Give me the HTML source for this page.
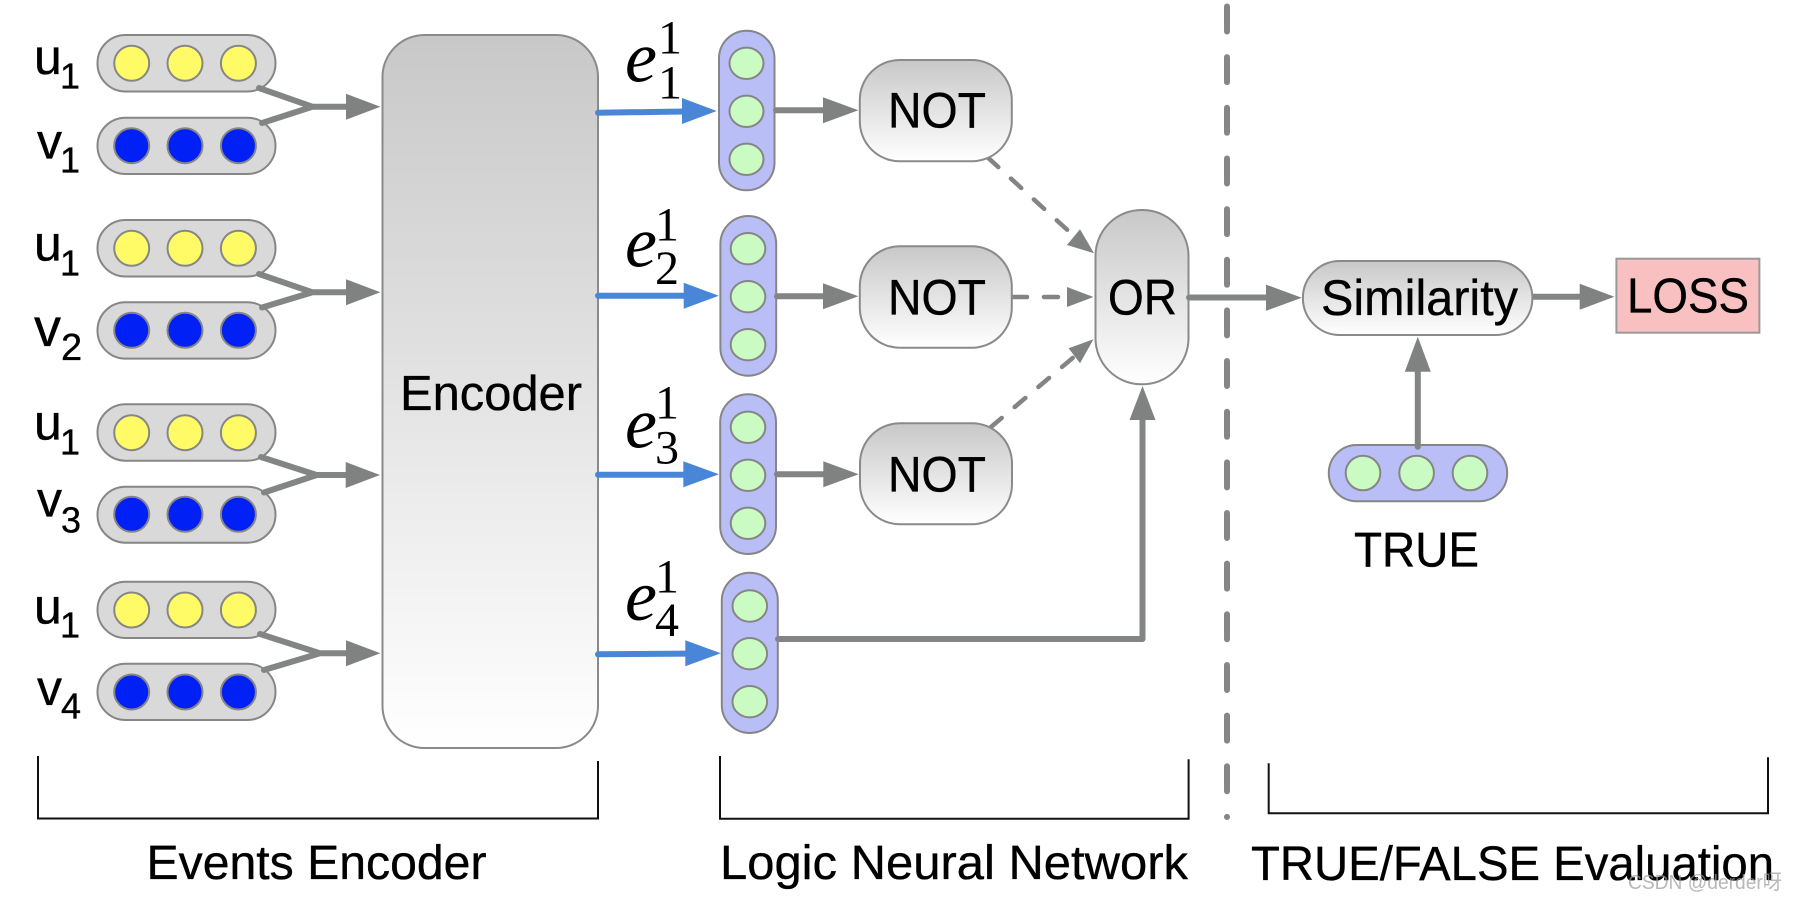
<!DOCTYPE html>
<html><head><meta charset="utf-8"><style>html,body{margin:0;padding:0;background:#fff;width:1796px;height:900px;overflow:hidden}svg{display:block}text{font-family:"Liberation Sans",sans-serif;fill:#000}.t{stroke:#000;stroke-width:.35}.m{font-family:"Liberation Serif",serif;}.i{font-family:"Liberation Serif",serif;font-style:italic}</style></head><body>
<svg width="1796" height="900" viewBox="0 0 1796 900" xmlns="http://www.w3.org/2000/svg">
<defs>
<linearGradient id="g" x1="0" y1="0" x2="0" y2="1"><stop offset="0" stop-color="#c8c8c8"/><stop offset="1" stop-color="#fff"/></linearGradient>
</defs>
<!-- input pills -->
<g fill="#d9d9d9" stroke="#868686" stroke-width="2">
<rect x="97.5" y="35" width="178" height="56.5" rx="28"/><rect x="97.5" y="117.7" width="178" height="56.3" rx="28"/>
<rect x="97.5" y="220" width="178" height="56.5" rx="28"/><rect x="97.5" y="302.3" width="178" height="56.3" rx="28"/>
<rect x="97.5" y="404.3" width="178" height="56.4" rx="28"/><rect x="97.5" y="486.7" width="178" height="56" rx="28"/>
<rect x="97.5" y="581.7" width="178" height="56.3" rx="28"/><rect x="97.5" y="663.7" width="178" height="56.3" rx="28"/>
</g>
<g fill="#fffb66" stroke="#868686" stroke-width="2">
<ellipse cx="131.7" cy="63.3" rx="17.5" ry="17.5"/><ellipse cx="185" cy="63.3" rx="17.5" ry="17.5"/><ellipse cx="238.4" cy="63.3" rx="17.5" ry="17.5"/>
<ellipse cx="131.7" cy="248.3" rx="17.5" ry="17.5"/><ellipse cx="185" cy="248.3" rx="17.5" ry="17.5"/><ellipse cx="238.4" cy="248.3" rx="17.5" ry="17.5"/>
<ellipse cx="131.7" cy="432.7" rx="17.5" ry="17.5"/><ellipse cx="185" cy="432.7" rx="17.5" ry="17.5"/><ellipse cx="238.4" cy="432.7" rx="17.5" ry="17.5"/>
<ellipse cx="131.7" cy="610" rx="17.5" ry="17.5"/><ellipse cx="185" cy="610" rx="17.5" ry="17.5"/><ellipse cx="238.4" cy="610" rx="17.5" ry="17.5"/>
</g>
<g fill="#0020f5" stroke="#868686" stroke-width="2">
<ellipse cx="131.7" cy="145.7" rx="17.5" ry="17.5"/><ellipse cx="185" cy="145.7" rx="17.5" ry="17.5"/><ellipse cx="238.4" cy="145.7" rx="17.5" ry="17.5"/>
<ellipse cx="131.7" cy="330.3" rx="17.5" ry="17.5"/><ellipse cx="185" cy="330.3" rx="17.5" ry="17.5"/><ellipse cx="238.4" cy="330.3" rx="17.5" ry="17.5"/>
<ellipse cx="131.7" cy="514.3" rx="17.5" ry="17.5"/><ellipse cx="185" cy="514.3" rx="17.5" ry="17.5"/><ellipse cx="238.4" cy="514.3" rx="17.5" ry="17.5"/>
<ellipse cx="131.7" cy="692" rx="17.5" ry="17.5"/><ellipse cx="185" cy="692" rx="17.5" ry="17.5"/><ellipse cx="238.4" cy="692" rx="17.5" ry="17.5"/>
</g>
<!-- encoder -->
<rect x="382.5" y="35" width="215.5" height="713" rx="42" fill="url(#g)" stroke="#8a8a8a" stroke-width="2"/>
<!-- input connectors -->
<g fill="none" stroke="#838584" stroke-width="6" stroke-linecap="round" stroke-linejoin="miter">
<path d="M259 88L312.4 106.7L262 123M312.4 106.7H350"/>
<path d="M259 274L312.4 292.3L262 307.5M312.4 292.3H350"/>
<path d="M261 457L316.7 475L264 492.5M316.7 475H350"/>
<path d="M260 634L320 653.3L264 670M320 653.3H350"/>
</g>
<g fill="#808281">
<polygon points="346,93.7 380.4,106.7 346,119.7"/>
<polygon points="346,279.3 380.4,292.3 346,305.3"/>
<polygon points="345.7,462 380,475 345.7,488"/>
<polygon points="346,640.3 380.4,653.3 346,666.3"/>
</g>
<!-- purple pills -->
<g fill="#b9bef6" stroke="#868686" stroke-width="2">
<rect x="719" y="30.7" width="55.5" height="159.6" rx="27.7"/>
<rect x="720.4" y="216" width="55.8" height="159.7" rx="27.9"/>
<rect x="720.2" y="394.3" width="55.8" height="159.7" rx="27.9"/>
<rect x="721.8" y="572.7" width="56" height="160.3" rx="28"/>
<rect x="1328.8" y="445" width="178.4" height="56.3" rx="28"/>
</g>
<g fill="#c9fbc2" stroke="#868686" stroke-width="2">
<ellipse cx="746.5" cy="63.3" rx="17" ry="15.7"/><ellipse cx="746.5" cy="111.3" rx="17" ry="15.7"/><ellipse cx="746.5" cy="159.3" rx="17" ry="15.7"/>
<ellipse cx="748" cy="248.7" rx="17.3" ry="15.7"/><ellipse cx="748" cy="296.7" rx="17.3" ry="15.7"/><ellipse cx="748" cy="344.7" rx="17.3" ry="15.7"/>
<ellipse cx="748" cy="427.3" rx="17.3" ry="15.7"/><ellipse cx="748" cy="475.3" rx="17.3" ry="15.7"/><ellipse cx="748" cy="523.3" rx="17.3" ry="15.7"/>
<ellipse cx="749.8" cy="606" rx="17.3" ry="15.7"/><ellipse cx="749.8" cy="653.7" rx="17.3" ry="15.7"/><ellipse cx="749.8" cy="701.7" rx="17.3" ry="15.7"/>
<ellipse cx="1363" cy="473" rx="17.3" ry="17.3"/><ellipse cx="1416.6" cy="473" rx="17.3" ry="17.3"/><ellipse cx="1470" cy="473" rx="17.3" ry="17.3"/>
</g>
<!-- blue arrows -->
<g stroke="#4a86d8" stroke-width="6" stroke-linecap="round" fill="none">
<path d="M598 112.7L685 111.5"/><path d="M598 295.7H687"/><path d="M598 474.8H686"/><path d="M598 654.3L688 653.6"/>
</g>
<g fill="#4a86d8">
<polygon points="682,98 716.7,111 682,124"/>
<polygon points="683.7,282.7 718.8,295.7 683.7,308.7"/>
<polygon points="683.3,461.3 719,474.3 683.3,487.3"/>
<polygon points="685.3,640.3 720.8,653.3 685.3,666.3"/>
</g>
<!-- grey arrows to NOT -->
<g stroke="#838584" stroke-width="6" stroke-linecap="round" fill="none">
<path d="M776 110.3H826"/><path d="M777 296.3H826"/><path d="M777 474.3H826"/>
<path d="M778 639H1142.5V420" stroke-linejoin="round"/>
<path d="M1531.5 296.7H1584"/><path d="M1417.8 446.7V368"/>
</g>
<g fill="#808281">
<polygon points="823,97.3 858.4,110.3 823,123.3"/>
<polygon points="823,283.3 858.4,296.3 823,309.3"/>
<polygon points="823.3,461.3 858.7,474.3 823.3,487.3"/>
<polygon points="1129.5,420 1142.5,386 1155.5,420"/>
<polygon points="1266,284.7 1301.6,297.7 1266,310.7"/>
<polygon points="1579.7,283.7 1614.4,296.7 1579.7,309.7"/>
<polygon points="1404.8,371.7 1417.8,336.7 1430.8,371.7"/>
</g>
<!-- dashed -->
<g stroke="#838584" stroke-width="4.5" stroke-linecap="round" fill="none" stroke-dasharray="14 17">
<path d="M988 157.7L1074 236"/><path d="M1013 297H1068"/><path d="M991 427L1075 356"/>
</g>
<g fill="#808281">
<polygon points="1080,229.3 1094,253.3 1067,245"/>
<polygon points="1067,287 1093.5,297 1067,307"/>
<polygon points="1068.6,348.3 1093.5,339.3 1080,363.3"/>
</g>
<!-- NOT / OR / Similarity -->
<g fill="url(#g)" stroke="#8a8a8a" stroke-width="2">
<rect x="859.8" y="60" width="152" height="101.3" rx="40"/>
<rect x="859.8" y="246.3" width="152" height="101.4" rx="40"/>
<rect x="860" y="423.3" width="152" height="101" rx="40"/>
<rect x="1095.5" y="210" width="93" height="174.3" rx="46"/>
<rect x="1302.9" y="261" width="229.5" height="74" rx="37"/>
</g>
<rect x="1616.4" y="258.7" width="143" height="74" fill="#f8c0c0" stroke="#999" stroke-width="2"/>
<path d="M1189 297.5H1270" stroke="#838584" stroke-width="6" stroke-linecap="round" fill="none"/>
<polygon points="1266,284.7 1301.6,297.7 1266,310.7" fill="#808281"/>
<!-- vertical dashed -->
<path d="M1227 6.5V817" stroke="#868686" stroke-width="6" stroke-linecap="round" stroke-dasharray="25 25.65" fill="none"/>
<!-- brackets -->
<g fill="none" stroke="#111" stroke-width="2">
<path d="M38 756V818.5H598V761"/>
<path d="M720 756V818.7H1188.6V759.3"/>
<path d="M1268.7 763.3V813.3H1768V757.3"/>
</g>
<!-- box text -->
<g class="t">
<text x="400" y="410" font-size="49" textLength="182" lengthAdjust="spacingAndGlyphs">Encoder</text>
<text x="888" y="127.3" font-size="50" textLength="98" lengthAdjust="spacingAndGlyphs">NOT</text>
<text x="888" y="314.3" font-size="50" textLength="98" lengthAdjust="spacingAndGlyphs">NOT</text>
<text x="888" y="491.7" font-size="50" textLength="98" lengthAdjust="spacingAndGlyphs">NOT</text>
<text x="1108" y="314.3" font-size="50" textLength="69" lengthAdjust="spacingAndGlyphs">OR</text>
<text x="1321" y="315" font-size="50" textLength="197" lengthAdjust="spacingAndGlyphs">Similarity</text>
<text x="1627" y="312.7" font-size="49" textLength="122" lengthAdjust="spacingAndGlyphs">LOSS</text>
<text x="1354" y="566.7" font-size="49" textLength="125" lengthAdjust="spacingAndGlyphs">TRUE</text>
<!-- bottom labels -->
<text x="146.5" y="879" font-size="48" textLength="340" lengthAdjust="spacingAndGlyphs">Events Encoder</text>
<text x="720" y="879" font-size="48" textLength="468" lengthAdjust="spacingAndGlyphs">Logic Neural Network</text>
<text x="1251" y="880" font-size="48" textLength="523" lengthAdjust="spacingAndGlyphs">TRUE/FALSE Evaluation</text>
<!-- u/v labels -->
<text x="34" y="74" font-size="50">u</text><text x="37" y="158.3" font-size="50">v</text>
<text x="34" y="260.7" font-size="50">u</text><text x="34" y="346" font-size="54">v</text>
<text x="34" y="439.3" font-size="50">u</text><text x="37" y="516.7" font-size="50">v</text>
<text x="34" y="623.3" font-size="50">u</text><text x="37" y="705" font-size="50">v</text>
<text x="60" y="88.3" font-size="36">1</text><text x="60" y="172.7" font-size="36">1</text>
<text x="60" y="275.3" font-size="36">1</text><text x="61" y="360" font-size="38">2</text>
<text x="60" y="454.3" font-size="36">1</text><text x="61" y="532.7" font-size="36">3</text>
<text x="60" y="637.3" font-size="36">1</text><text x="61" y="718.3" font-size="36">4</text>
</g>
<!-- e labels -->
<text class="i" x="625" y="81.7" font-size="72">e</text><text class="i" x="625" y="266.7" font-size="72">e</text><text class="i" x="625" y="447.3" font-size="72">e</text><text class="i" x="625" y="620" font-size="72">e</text>
<g font-size="48">
<text class="m" x="658" y="53.3">1</text><text class="m" x="658" y="98.3">1</text>
<text class="m" x="655" y="240.7">1</text><text class="m" x="655" y="284">2</text>
<text class="m" x="655" y="418.3">1</text><text class="m" x="655" y="463.3">3</text>
<text class="m" x="655" y="592.3">1</text><text class="m" x="655" y="636">4</text>
</g>
<!-- watermark -->
<text x="1628" y="889" font-size="20.5" textLength="154" lengthAdjust="spacingAndGlyphs" style="fill:#9a9a9a;fill-opacity:.7;font-family:'Liberation Sans','Noto Sans CJK SC',sans-serif">CSDN @derder呀</text>
</svg>
</body></html>
